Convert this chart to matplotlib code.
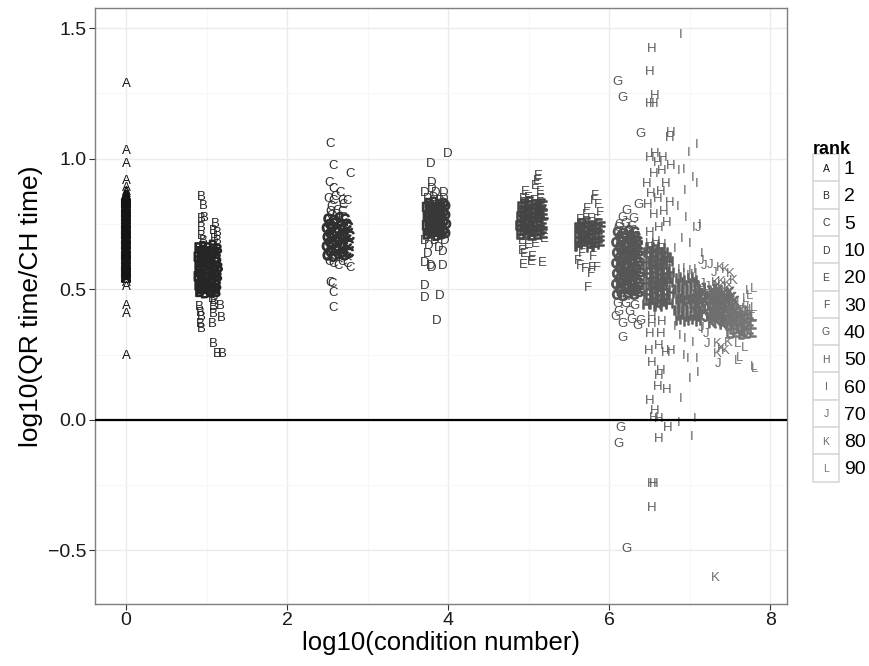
import matplotlib
matplotlib.use("Agg")
import matplotlib.pyplot as plt
import matplotlib.patheffects as pe
from matplotlib.patches import Rectangle

plt.rcParams["font.family"] = ["Liberation Sans", "DejaVu Sans"]

# rank groups, letters used as plotting symbols
ranks = [1, 2, 5, 10, 20, 30, 40, 50, 60, 70, 80, 90]
letters = ["A", "B", "C", "D", "E", "F", "G", "H", "I", "J", "K", "L"]
greys = ["#141414", "#262626", "#303030", "#383838", "#444444", "#4b4b4b",
         "#555555", "#5c5c5c", "#626262", "#686868", "#6e6e6e", "#747474"]

# rank 1: condition number is always 1 (log10 = 0)
core_ratio_A = [0.86, 0.855, 0.85, 0.845, 0.84, 0.835, 0.83, 0.822, 0.815,
                0.808, 0.80, 0.795, 0.79, 0.782, 0.775, 0.768, 0.76, 0.755,
                0.75, 0.742, 0.735, 0.728, 0.72, 0.715, 0.71, 0.70, 0.695,
                0.688, 0.68, 0.675, 0.67, 0.66, 0.655, 0.647, 0.64, 0.636,
                0.63, 0.622, 0.615, 0.607, 0.60, 0.595, 0.59, 0.583, 0.575,
                0.57, 0.565, 0.558, 0.55, 0.545]
spread_ratio_A = [1.29, 1.035, 0.985, 0.92, 0.895, 0.88, 0.87, 0.54, 0.53,
                  0.515, 0.44, 0.41, 0.25]

# (log10 condition number, log10 time ratio): dense centre, then scattered runs
core_B = [(0.90, 0.66), (0.96, 0.665), (1.02, 0.66), (1.08, 0.67), (1.14, 0.655),
          (0.89, 0.625), (0.95, 0.63), (1.01, 0.62), (1.07, 0.635), (1.13, 0.62),
          (0.90, 0.59), (0.96, 0.585), (1.03, 0.595), (1.09, 0.59), (1.15, 0.585),
          (0.89, 0.55), (0.95, 0.555), (1.01, 0.545), (1.08, 0.555), (1.14, 0.55),
          (0.90, 0.515), (0.96, 0.51), (1.02, 0.52), (1.08, 0.51), (1.13, 0.515),
          (0.91, 0.49), (0.98, 0.485), (1.05, 0.49), (1.12, 0.49),
          (0.925, 0.50), (0.99, 0.505), (1.055, 0.495), (1.115, 0.50),
          (0.93, 0.535), (0.99, 0.53), (1.06, 0.54), (1.12, 0.535),
          (0.92, 0.57), (0.985, 0.575), (1.05, 0.565), (1.115, 0.57),
          (0.925, 0.605), (0.99, 0.61), (1.055, 0.60), (1.12, 0.605),
          (0.93, 0.64), (0.995, 0.645), (1.06, 0.64), (1.11, 0.645)]
spread_B = [(0.93, 0.858), (0.96, 0.824), (0.93, 0.774), (0.97, 0.78), (0.94, 0.739),
            (0.94, 0.709), (0.96, 0.69), (1.11, 0.755), (1.08, 0.728), (1.13, 0.72),
            (1.10, 0.70), (1.14, 0.69), (0.91, 0.437), (0.92, 0.414), (0.93, 0.398),
            (0.92, 0.372), (0.93, 0.352), (1.07, 0.372), (1.08, 0.41), (1.08, 0.437),
            (1.17, 0.44), (1.19, 0.395), (1.07, 0.467), (1.10, 0.46), (1.08, 0.295),
            (1.13, 0.257), (1.20, 0.257)]

core_C = [(2.50, 0.63), (2.57, 0.625), (2.64, 0.635), (2.71, 0.63), (2.77, 0.64),
          (2.49, 0.665), (2.56, 0.67), (2.63, 0.66), (2.70, 0.665), (2.77, 0.67),
          (2.50, 0.70), (2.57, 0.705), (2.64, 0.695), (2.71, 0.70), (2.78, 0.705),
          (2.49, 0.735), (2.56, 0.74), (2.63, 0.73), (2.70, 0.735), (2.76, 0.74),
          (2.51, 0.77), (2.58, 0.765), (2.65, 0.775), (2.72, 0.77),
          (2.535, 0.645), (2.605, 0.65), (2.675, 0.64), (2.74, 0.645),
          (2.53, 0.68), (2.60, 0.685), (2.67, 0.675), (2.745, 0.68),
          (2.535, 0.715), (2.605, 0.72), (2.675, 0.71), (2.74, 0.715),
          (2.53, 0.75), (2.60, 0.755), (2.67, 0.745), (2.74, 0.75)]
spread_C = [(2.545, 0.785), (2.615, 0.79), (2.685, 0.78), (2.53, 0.80), (2.62, 0.805),
            (2.69, 0.80), (2.53, 1.061), (2.57, 0.977), (2.78, 0.946), (2.52, 0.912),
            (2.57, 0.889), (2.66, 0.874), (2.51, 0.851), (2.57, 0.843), (2.68, 0.843),
            (2.75, 0.843), (2.60, 0.86), (2.55, 0.82), (2.70, 0.83), (2.57, 0.602),
            (2.75, 0.602), (2.78, 0.586), (2.63, 0.595), (2.53, 0.529), (2.56, 0.525),
            (2.57, 0.49), (2.57, 0.433), (2.52, 0.61), (2.68, 0.61)]

core_D = [(3.74, 0.71), (3.80, 0.715), (3.86, 0.705), (3.92, 0.71), (3.97, 0.715),
          (3.73, 0.745), (3.79, 0.75), (3.86, 0.74), (3.92, 0.745), (3.98, 0.75),
          (3.74, 0.78), (3.80, 0.785), (3.86, 0.775), (3.92, 0.78), (3.97, 0.785),
          (3.73, 0.815), (3.79, 0.82), (3.86, 0.81), (3.92, 0.815), (3.97, 0.82),
          (3.77, 0.725), (3.83, 0.73), (3.89, 0.72), (3.945, 0.725),
          (3.765, 0.76), (3.83, 0.765), (3.89, 0.755), (3.95, 0.76),
          (3.77, 0.795), (3.83, 0.80), (3.89, 0.79), (3.945, 0.795),
          (3.765, 0.83), (3.83, 0.835), (3.89, 0.825), (3.95, 0.83)]
spread_D = [(3.75, 0.85), (3.82, 0.855), (3.89, 0.845), (3.95, 0.85),
            (3.99, 1.023), (3.78, 0.985), (3.80, 0.912), (3.71, 0.874), (3.94, 0.874),
            (3.80, 0.89), (3.85, 0.875), (3.71, 0.69), (3.84, 0.69), (3.96, 0.69),
            (3.75, 0.64), (3.93, 0.65), (3.71, 0.605), (3.78, 0.594), (3.93, 0.594),
            (3.80, 0.587), (3.71, 0.517), (3.71, 0.471), (3.90, 0.479), (3.86, 0.383),
            (3.76, 0.67), (3.88, 0.665)]

core_E = [(4.90, 0.71), (4.97, 0.715), (5.04, 0.705), (5.11, 0.71), (5.18, 0.715),
          (4.89, 0.745), (4.96, 0.75), (5.03, 0.74), (5.10, 0.745), (5.18, 0.75),
          (4.90, 0.78), (4.97, 0.785), (5.04, 0.775), (5.11, 0.78), (5.19, 0.785),
          (4.91, 0.815), (4.98, 0.82), (5.05, 0.81), (5.12, 0.815), (5.18, 0.82),
          (4.935, 0.725), (5.005, 0.73), (5.075, 0.72), (5.145, 0.725),
          (4.93, 0.76), (5.00, 0.765), (5.07, 0.755), (5.145, 0.76),
          (4.935, 0.795), (5.005, 0.80), (5.075, 0.79), (5.15, 0.795),
          (4.945, 0.83), (5.015, 0.835), (5.085, 0.825), (5.155, 0.83)]
spread_E = [(4.93, 0.85), (5.00, 0.855), (5.07, 0.845), (5.14, 0.85),
            (5.12, 0.94), (5.11, 0.92), (5.08, 0.90), (4.96, 0.88), (5.15, 0.88),
            (4.92, 0.651), (4.93, 0.60), (5.17, 0.605), (5.05, 0.63), (5.00, 0.675),
            (5.19, 0.70), (5.03, 0.61), (4.95, 0.64), (4.92, 0.69), (5.09, 0.68)]

core_F = [(5.62, 0.665), (5.69, 0.67), (5.76, 0.66), (5.83, 0.665), (5.90, 0.67),
          (5.61, 0.70), (5.68, 0.705), (5.75, 0.695), (5.82, 0.70), (5.90, 0.705),
          (5.62, 0.735), (5.69, 0.74), (5.76, 0.73), (5.83, 0.735), (5.91, 0.74),
          (5.655, 0.68), (5.725, 0.685), (5.795, 0.675), (5.865, 0.68),
          (5.65, 0.715), (5.72, 0.72), (5.79, 0.71), (5.865, 0.715),
          (5.655, 0.75), (5.725, 0.755), (5.795, 0.745), (5.87, 0.75)]
spread_F = [(5.64, 0.77), (5.71, 0.765), (5.78, 0.775), (5.85, 0.77),
            (5.83, 0.862), (5.81, 0.842), (5.86, 0.83), (5.73, 0.812), (5.89, 0.797),
            (5.71, 0.79), (5.61, 0.613), (5.64, 0.594), (5.70, 0.583), (5.79, 0.586),
            (5.85, 0.586), (5.77, 0.563), (5.74, 0.51), (5.66, 0.64), (5.80, 0.63)]

core_G = [(6.10, 0.48), (6.17, 0.475), (6.24, 0.485), (6.31, 0.48), (6.37, 0.49),
          (6.09, 0.52), (6.16, 0.525), (6.23, 0.515), (6.30, 0.52), (6.37, 0.525),
          (6.10, 0.56), (6.17, 0.565), (6.24, 0.555), (6.31, 0.56), (6.38, 0.565),
          (6.09, 0.60), (6.16, 0.605), (6.23, 0.595), (6.30, 0.60), (6.37, 0.605),
          (6.10, 0.64), (6.17, 0.645), (6.24, 0.635), (6.31, 0.64), (6.37, 0.645),
          (6.09, 0.68), (6.16, 0.685), (6.23, 0.675), (6.30, 0.68), (6.36, 0.685),
          (6.11, 0.72), (6.18, 0.715), (6.25, 0.725), (6.32, 0.72),
          (6.135, 0.50), (6.205, 0.505), (6.275, 0.495), (6.34, 0.50),
          (6.13, 0.54), (6.20, 0.545), (6.27, 0.535), (6.345, 0.54),
          (6.135, 0.58), (6.205, 0.585), (6.275, 0.575), (6.34, 0.58),
          (6.13, 0.62), (6.20, 0.625), (6.27, 0.615), (6.345, 0.62),
          (6.135, 0.66), (6.205, 0.665), (6.275, 0.655), (6.34, 0.66),
          (6.14, 0.70), (6.21, 0.705), (6.28, 0.695), (6.335, 0.70)]
spread_G = [(6.13, 0.75), (6.21, 0.755), (6.28, 0.745),
            (6.11, 1.30), (6.17, 1.24), (6.39, 1.10), (6.36, 0.83), (6.22, 0.805),
            (6.17, 0.78), (6.30, 0.775), (6.12, 0.74), (6.10, 0.45), (6.12, 0.42),
            (6.25, 0.42), (6.28, 0.39), (6.39, 0.385), (6.17, 0.372), (6.35, 0.364),
            (6.17, 0.318), (6.14, -0.027), (6.12, -0.088), (6.22, -0.487),
            (6.20, 0.45), (6.32, 0.44), (6.08, 0.40)]

core_H = [(6.47, 0.44), (6.54, 0.445), (6.61, 0.435), (6.68, 0.44), (6.75, 0.445),
          (6.48, 0.48), (6.55, 0.485), (6.62, 0.475), (6.69, 0.48), (6.76, 0.485),
          (6.47, 0.52), (6.54, 0.525), (6.61, 0.515), (6.68, 0.52), (6.75, 0.525),
          (6.48, 0.56), (6.55, 0.565), (6.62, 0.555), (6.69, 0.56), (6.76, 0.565),
          (6.47, 0.60), (6.54, 0.605), (6.61, 0.595), (6.68, 0.60), (6.75, 0.605),
          (6.48, 0.64), (6.55, 0.645), (6.62, 0.635), (6.69, 0.64),
          (6.505, 0.46), (6.575, 0.465), (6.645, 0.455), (6.715, 0.46),
          (6.50, 0.50), (6.57, 0.505), (6.64, 0.495), (6.715, 0.50),
          (6.505, 0.54), (6.575, 0.545), (6.645, 0.535), (6.72, 0.54),
          (6.50, 0.58), (6.57, 0.585), (6.64, 0.575), (6.715, 0.58),
          (6.505, 0.62), (6.575, 0.625), (6.645, 0.615), (6.72, 0.62),
          (6.51, 0.66), (6.58, 0.665), (6.65, 0.655)]
spread_H = [(6.50, 0.68), (6.58, 0.685), (6.65, 0.675),
            (6.50, 0.72), (6.62, 0.74), (6.72, 0.76), (6.55, 0.79), (6.68, 0.80),
            (6.48, 0.83), (6.60, 0.85), (6.75, 0.835), (6.52, 0.87), (6.64, 0.88),
            (6.70, 0.91), (6.47, 0.908), (6.56, 0.946), (6.65, 0.96), (6.76, 0.977),
            (6.50, 1.008), (6.57, 1.023), (6.67, 1.008), (6.60, 0.99), (6.76, 1.103),
            (6.75, 1.084), (6.57, 1.245), (6.50, 1.215), (6.56, 1.215), (6.50, 1.337),
            (6.53, 1.425),
            (6.53, 0.40), (6.65, 0.38), (6.53, 0.372), (6.50, 0.333), (6.64, 0.333),
            (6.62, 0.287), (6.49, 0.268), (6.76, 0.268), (6.70, 0.26), (6.53, 0.222),
            (6.64, 0.192), (6.62, 0.172), (6.60, 0.130), (6.72, 0.119), (6.50, 0.077),
            (6.57, 0.038), (6.55, 0.011), (6.62, 0.008), (6.73, -0.027), (6.62, -0.069),
            (6.53, -0.238), (6.55, -0.238), (6.53, -0.333)]

core_I = [(6.84, 0.38), (6.89, 0.385), (6.94, 0.375), (6.99, 0.38), (7.04, 0.385), (7.09, 0.375), (7.14, 0.38),
          (6.82, 0.42), (6.87, 0.425), (6.92, 0.415), (6.97, 0.42), (7.02, 0.425), (7.07, 0.415), (7.12, 0.42),
          (6.84, 0.46), (6.89, 0.465), (6.94, 0.455), (6.99, 0.46), (7.04, 0.465), (7.09, 0.455), (7.14, 0.46),
          (6.82, 0.50), (6.87, 0.505), (6.92, 0.495), (6.97, 0.50), (7.02, 0.505), (7.07, 0.495), (7.12, 0.50),
          (6.84, 0.54), (6.89, 0.545), (6.94, 0.535), (6.99, 0.54), (7.04, 0.545), (7.09, 0.535),
          (6.865, 0.40), (6.915, 0.405), (6.965, 0.395), (7.015, 0.40), (7.065, 0.405), (7.115, 0.395),
          (6.86, 0.44), (6.91, 0.445), (6.96, 0.435), (7.01, 0.44), (7.06, 0.445), (7.11, 0.435),
          (6.865, 0.48), (6.915, 0.485), (6.965, 0.475), (7.015, 0.48), (7.065, 0.485), (7.115, 0.475),
          (6.86, 0.52), (6.91, 0.525), (6.96, 0.515), (7.01, 0.52), (7.06, 0.525), (7.11, 0.515)]
spread_I = [(6.86, 0.58), (6.93, 0.585), (7.00, 0.575), (7.06, 0.58),
            (6.87, 0.56), (6.92, 0.565), (6.97, 0.555), (7.02, 0.56), (7.07, 0.565),
            (6.89, 1.479), (7.09, 1.057), (6.99, 1.027), (6.87, 0.958), (6.92, 0.962),
            (7.04, 0.931), (7.09, 0.908), (6.94, 0.881), (6.85, 0.82), (6.95, 0.78),
            (7.05, 0.74), (7.12, 0.75), (6.90, 0.70), (7.00, 0.68), (6.82, 0.66),
            (7.15, 0.64), (6.88, 0.326), (6.94, 0.314), (7.04, 0.30), (6.92, 0.249),
            (6.98, 0.24), (7.09, 0.238), (7.10, 0.184), (7.00, 0.161), (6.89, 0.084),
            (6.86, -0.008), (7.06, 0.008), (7.02, -0.061), (7.15, 0.35), (6.82, 0.36)]

core_J = [(7.06, 0.40), (7.13, 0.405), (7.20, 0.395), (7.27, 0.40), (7.34, 0.405),
          (7.07, 0.44), (7.14, 0.445), (7.21, 0.435), (7.28, 0.44), (7.35, 0.445),
          (7.06, 0.48), (7.13, 0.485), (7.20, 0.475), (7.27, 0.48), (7.34, 0.485),
          (7.095, 0.42), (7.165, 0.425), (7.235, 0.415), (7.305, 0.42),
          (7.10, 0.46), (7.17, 0.465), (7.24, 0.455), (7.31, 0.46),
          (7.095, 0.50), (7.165, 0.505), (7.235, 0.495), (7.305, 0.50)]
spread_J = [(7.08, 0.52), (7.15, 0.525), (7.22, 0.515), (7.29, 0.52),
            (7.11, 0.739), (7.14, 0.613), (7.18, 0.595), (7.30, 0.57), (7.25, 0.60),
            (7.14, 0.356), (7.20, 0.333), (7.22, 0.295), (7.35, 0.218)]

core_K = [(7.28, 0.37), (7.35, 0.375), (7.42, 0.365), (7.49, 0.37), (7.56, 0.375),
          (7.29, 0.41), (7.36, 0.415), (7.43, 0.405), (7.50, 0.41), (7.57, 0.415),
          (7.28, 0.45), (7.35, 0.455), (7.42, 0.445), (7.49, 0.45), (7.56, 0.455),
          (7.29, 0.49), (7.36, 0.495), (7.43, 0.485), (7.50, 0.49),
          (7.315, 0.39), (7.385, 0.395), (7.455, 0.385), (7.525, 0.39),
          (7.32, 0.43), (7.39, 0.435), (7.46, 0.425), (7.53, 0.43),
          (7.315, 0.47), (7.385, 0.475), (7.455, 0.465), (7.525, 0.47)]
spread_K = [(7.32, 0.53), (7.40, 0.535), (7.47, 0.525), (7.33, 0.51), (7.40, 0.515),
            (7.47, 0.505), (7.38, 0.586), (7.50, 0.563), (7.54, 0.536), (7.44, 0.58),
            (7.34, 0.295), (7.40, 0.276), (7.35, 0.257), (7.44, 0.268), (7.48, 0.30),
            (7.32, -0.60)]

core_L = [(7.50, 0.33), (7.57, 0.335), (7.64, 0.325), (7.71, 0.33), (7.78, 0.335),
          (7.49, 0.36), (7.56, 0.365), (7.63, 0.355), (7.70, 0.36), (7.78, 0.365),
          (7.50, 0.39), (7.57, 0.395), (7.64, 0.385), (7.71, 0.39), (7.78, 0.395),
          (7.51, 0.42), (7.58, 0.425), (7.65, 0.415), (7.72, 0.42),
          (7.535, 0.345), (7.605, 0.35), (7.675, 0.34), (7.745, 0.345),
          (7.53, 0.375), (7.60, 0.38), (7.67, 0.37), (7.745, 0.375),
          (7.535, 0.405), (7.605, 0.41), (7.675, 0.40), (7.745, 0.405)]
spread_L = [(7.55, 0.45), (7.62, 0.455), (7.69, 0.445), (7.77, 0.425),
            (7.54, 0.435), (7.61, 0.44), (7.68, 0.43), (7.74, 0.435),
            (7.73, 0.498), (7.79, 0.506), (7.75, 0.48), (7.79, 0.433), (7.79, 0.40),
            (7.70, 0.47), (7.60, 0.295), (7.68, 0.28), (7.62, 0.241), (7.60, 0.23),
            (7.79, 0.21), (7.81, 0.20)]

cores = [[(0.0, r) for r in core_ratio_A], core_B, core_C, core_D, core_E,
         core_F, core_G, core_H, core_I, core_J, core_K, core_L]
spreads = [[(0.0, r) for r in spread_ratio_A], spread_B, spread_C, spread_D,
           spread_E, spread_F, spread_G, spread_H, spread_I, spread_J,
           spread_K, spread_L]

fig = plt.figure(figsize=(8.7, 6.66), dpi=100)
ax = fig.add_axes([95 / 870, 62 / 666, 692 / 870, 596 / 666])

for letter, col, core, spread in zip(letters, greys, cores, spreads):
    # where hundreds of runs pile up the glyphs merge into a solid blob
    thick = [pe.withStroke(linewidth=1.1, foreground=col)]
    for x, y in core:
        ax.text(x, y, letter, color=col, fontsize=9.5, ha="center",
                va="center_baseline", path_effects=thick)
    for x, y in spread:
        ax.text(x, y, letter, color=col, fontsize=9.5, ha="center",
                va="center_baseline")

ax.axhline(0, color="black", lw=1.6, zorder=3)

ax.set_xlim(-0.385, 8.21)
ax.set_ylim(-0.705, 1.577)
ax.set_xticks([0, 2, 4, 6, 8])
ax.set_xticks([1, 3, 5, 7], minor=True)
ax.set_yticks([-0.5, 0.0, 0.5, 1.0, 1.5])
ax.set_yticklabels(["\u22120.5", "0.0", "0.5", "1.0", "1.5"])
ax.set_yticks([-0.25, 0.25, 0.75, 1.25], minor=True)
ax.grid(which="major", color="#ebebeb", lw=1.0, zorder=0)
ax.grid(which="minor", color="#f7f7f7", lw=0.8, zorder=0)
ax.set_axisbelow(True)
for s in ax.spines.values():
    s.set_color("#7f7f7f")
    s.set_linewidth(1.0)
ax.tick_params(which="major", length=4, color="#333333", labelsize=14,
               labelcolor="#1a1a1a", pad=2)
ax.tick_params(which="minor", length=0)
ax.set_xlabel("log10(condition number)", fontsize=18.5, labelpad=1)
ax.set_ylabel("log10(QR time/CH time)", fontsize=19, labelpad=4)

# legend drawn in pixel coordinates
lax = fig.add_axes([0, 0, 1, 1])
lax.set_xlim(0, 870)
lax.set_ylim(666, 0)
lax.axis("off")
lax.text(813, 150, "rank", fontsize=13, fontweight="bold", ha="left",
         va="center")
key_h = 27.3
for i, (letter, col, r) in enumerate(zip(letters, greys, ranks)):
    top = 154 + i * key_h
    lax.add_patch(Rectangle((813, top), 26, key_h, facecolor="white",
                            edgecolor="#d9d9d9", lw=1.2))
    lax.text(826, top + key_h / 2, letter, color=col, fontsize=7.5,
             ha="center", va="center_baseline")
    lax.text(844, top + key_h / 2, str(r), fontsize=14, ha="left",
             va="center_baseline")

fig.savefig("out.png", dpi=100)
